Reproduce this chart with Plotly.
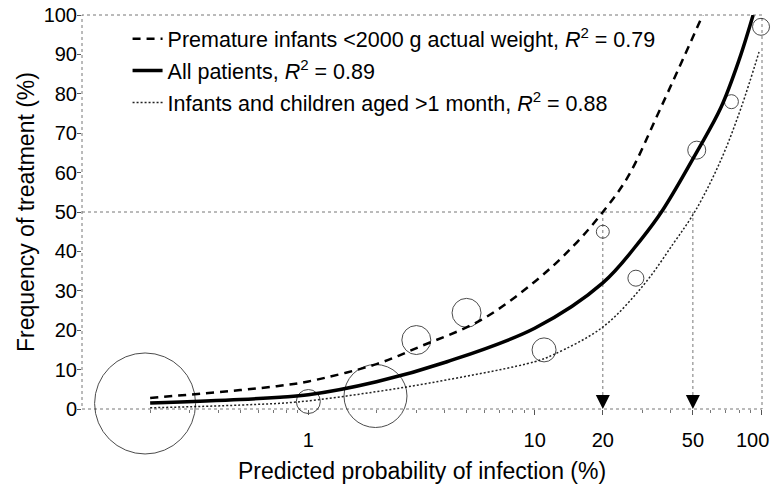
import math
import plotly.graph_objects as go

# ---- Data ----
# Fitted curve: premature infants <2000 g actual weight
premature_x = [0.2, 0.5, 0.75, 1.0, 2.0, 3.1, 5.8, 10, 14.9, 20, 25.8, 35.7, 55.3]
premature_y = [2.8, 4.8, 5.9, 7.0, 11.4, 15.8, 22.6, 32.3, 41.5, 50, 58.9, 75.9, 100]

# Fitted curve: all patients
all_x = [0.2, 0.5, 0.75, 1.0, 2.0, 4.1, 10, 20, 29.5, 36.8, 52.6, 66.5, 80, 92.3]
all_y = [1.5, 2.4, 3.0, 3.6, 6.9, 12.0, 20.5, 32, 43, 50.5, 65.7, 76.5, 88.6, 100]

# Fitted curve: infants and children aged >1 month
infants_x = [0.2, 0.5, 0.9, 2.0, 4.1, 10, 12.1, 20, 30.3, 41, 51.5, 66.5, 81.7, 98]
infants_y = [0.3, 1.0, 1.8, 4.4, 7.4, 12.0, 13.8, 20.8, 31.5, 42.0, 50.5, 63.2, 76.5, 90.6]

# Observed groups (bubbles): predicted probability, frequency of treatment, group weight
group_x = [0.19, 1.0, 1.98, 3.0, 5.0, 11, 20, 28, 52, 74, 100]
group_y = [1.4, 1.9, 3.3, 17.5, 24.4, 15, 45, 33.2, 65.7, 78, 97]
group_n = [2550, 144, 992, 210, 210, 144, 42, 64, 81, 49, 72]

# 50 % treatment threshold and the corresponding predicted probabilities
threshold_x = [20, 50]
threshold_y = 50

x_axis_min = 0.1
x_axis_max = 101
x_tick_vals = [1, 10, 20, 50, 100]
x_tick_text = ["1", "10", "20", "50", ""]   # "100" is drawn as an annotation so it fits the edge
x_edge_label = "100"
x_minor_vals = [0.2, 0.3, 0.4, 0.5, 0.6, 0.7, 0.8, 0.9,
                2, 3, 4, 5, 6, 7, 8, 9, 30, 40, 60, 70, 80, 90]
y_tick_vals = [0, 10, 20, 30, 40, 50, 60, 70, 80, 90, 100]

FONT = "Liberation Sans, Arial, Helvetica, sans-serif"
R2 = "<i>R</i><sup>2</sup>"

fig = go.Figure()

# threshold guide lines (dotted grey)
fig.add_trace(go.Scatter(
    x=[x_axis_min, threshold_x[-1]], y=[threshold_y, threshold_y],
    mode="lines", line=dict(color="#777777", width=1, dash="dot"),
    showlegend=False, hoverinfo="skip"))
for t in threshold_x:
    fig.add_trace(go.Scatter(
        x=[t, t], y=[threshold_y, 0],
        mode="lines", line=dict(color="#777777", width=1, dash="dot"),
        showlegend=False, hoverinfo="skip"))

# fitted curves
fig.add_trace(go.Scatter(
    x=premature_x, y=premature_y, mode="lines",
    line=dict(color="black", width=2.5, dash="8px,6px", shape="spline", smoothing=1),
    name="Premature infants <2000 g actual weight, " + R2 + " = 0.79",
    legendgroup="a", legendrank=1))
fig.add_trace(go.Scatter(
    x=all_x, y=all_y, mode="lines",
    line=dict(color="black", width=3.5, shape="spline", smoothing=1),
    name="All patients, " + R2 + " = 0.89",
    legendgroup="b", legendrank=2))
fig.add_trace(go.Scatter(
    x=infants_x, y=infants_y, mode="lines",
    line=dict(color="#222222", width=1.5, dash="2px,2px", shape="spline", smoothing=1),
    name="Infants and children aged >1 month, " + R2 + " = 0.88",
    legendgroup="c", legendrank=3))

# observed groups as open bubbles
fig.add_trace(go.Scatter(
    x=group_x, y=group_y, mode="markers",
    marker=dict(size=group_n, sizemode="area", sizeref=0.5, symbol="circle",
                color="rgba(0,0,0,0)", line=dict(color="black", width=1)),
    cliponaxis=False, showlegend=False))

annotations = []
for t in threshold_x:
    annotations.append(dict(
        x=math.log10(t), y=0, xref="x", yref="y", text="",
        showarrow=True, ax=0, ay=-13, arrowhead=2, arrowsize=2.8,
        arrowwidth=1, arrowcolor="black", standoff=0))
annotations.append(dict(
    x=math.log10(x_tick_vals[-1]), y=0, xref="x", yref="y", text=x_edge_label,
    showarrow=False, xanchor="right", yanchor="middle", xshift=10, yshift=-31,
    font=dict(size=20, family=FONT, color="black")))

fig.update_layout(
    width=774, height=487,
    margin=dict(l=82, r=12, t=15, b=78),
    paper_bgcolor="white", plot_bgcolor="white",
    font=dict(family=FONT, color="black", size=20),
    showlegend=True,
    legend=dict(x=0.067, y=0.992, xanchor="left", yanchor="top",
                bgcolor="rgba(0,0,0,0)", borderwidth=0,
                font=dict(size=21.5, family=FONT), tracegroupgap=1),
    annotations=annotations,
    shapes=[dict(type="rect", xref="paper", yref="paper", x0=0, x1=1, y0=0, y1=1,
                 line=dict(color="#777777", width=1, dash="dot"), layer="below")],
    xaxis=dict(
        type="log", range=[math.log10(x_axis_min), math.log10(x_axis_max)],
        automargin=False,
        tickmode="array", tickvals=x_tick_vals, ticktext=x_tick_text,
        ticks="outside", ticklen=5, tickcolor="#555555", ticklabelstandoff=8,
        tickfont=dict(size=20), showgrid=False, zeroline=False, showline=False,
        minor=dict(ticks="outside", ticklen=3, tickcolor="#777777",
                   tickmode="array", tickvals=x_minor_vals, showgrid=False),
        title=dict(text="Predicted probability of infection (%)", font=dict(size=23), standoff=12)),
    yaxis=dict(
        range=[0, 100], tickmode="array", tickvals=y_tick_vals,
        automargin=False,
        ticks="outside", ticklen=4, tickcolor="#555555",
        tickfont=dict(size=20), showgrid=False, zeroline=False, showline=False,
        title=dict(text="Frequency of treatment (%)", font=dict(size=23), standoff=2)),
)

try:
    fig.update_yaxes(ticklabelstandoff=-4)
except ValueError:
    pass

fig.write_html("out.html", config={"displayModeBar": False},
               post_script="document.body.style.margin='0';")
